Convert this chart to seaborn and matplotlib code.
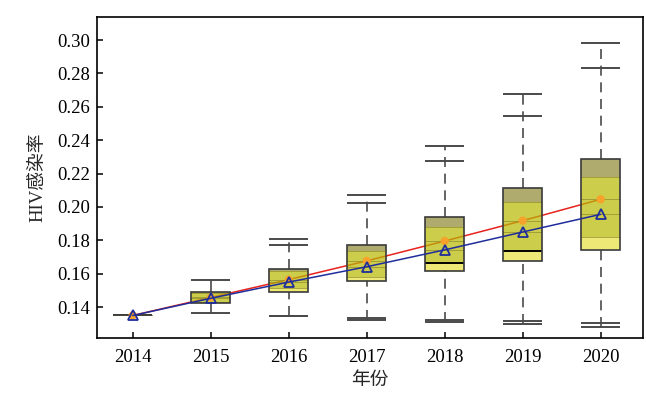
import matplotlib
matplotlib.use("Agg")
import matplotlib.pyplot as plt
import pandas as pd
import seaborn as sns

# ==============================================================================
# 1. Values
# ==============================================================================
years = [2014, 2015, 2016, 2017, 2018, 2019, 2020]
median_vals = [0.1350, 0.1458, 0.1565, 0.1677, 0.1796, 0.1918, 0.2046]
mean_vals = [0.1350, 0.1453, 0.1550, 0.1642, 0.1743, 0.1850, 0.1956]

box_top = [0.1350, 0.1491, 0.1629, 0.1772, 0.1942, 0.2112, 0.2289]
dark_band_bottom = [0.1350, 0.1486, 0.1615, 0.1737, 0.1882, 0.2028, 0.2182]
light_band_top = [0.1350, 0.1430, 0.1515, 0.1583, 0.1663, 0.1737, 0.1822]
box_bottom = [0.1350, 0.1423, 0.1489, 0.1559, 0.1619, 0.1679, 0.1743]

upper_cap_inner = [0.1350, 0.1563, 0.1772, 0.2022, 0.2277, 0.2547, 0.2830]
upper_cap_outer = [0.1350, 0.1563, 0.1807, 0.2072, 0.2365, 0.2675, 0.2984]
lower_cap_inner = [0.1350, 0.1363, 0.1347, 0.1333, 0.1323, 0.1317, 0.1307]
lower_cap_outer = [0.1350, 0.1363, 0.1345, 0.1320, 0.1311, 0.1299, 0.1283]

df = pd.DataFrame({"year": years, "median": median_vals, "mean": mean_vals})

# ==============================================================================
# 2. Styling
# ==============================================================================
sns.set_theme(style="ticks")
plt.rcParams["font.family"] = ["Liberation Serif", "Noto Sans CJK SC"]
plt.rcParams["axes.linewidth"] = 1.2

ALPHA = 0.7
DARK = (141 / 255, 136 / 255, 48 / 255)
MID = (184 / 255, 184 / 255, 0 / 255)
LIGHT = (231 / 255, 225 / 255, 62 / 255)
EDGE = "#3a3a3a"
WIDTH = 0.5
bold_split_years = {2018, 2019}
solid_whisker_years = {2015}

fig = plt.figure(figsize=(6.46, 3.96), dpi=100)
ax = fig.add_axes([0.150, 0.146, 0.845, 0.811])

# median line sits beneath the translucent boxes (turns orange inside them)
sns.lineplot(data=df, x="year", y="median", color="#e8231e", lw=1.1,
             ax=ax, zorder=1)

# ==============================================================================
# 3. Whiskers, caps and banded boxes
# ==============================================================================
for i, yr in enumerate(years):
    ls = "-" if yr in solid_whisker_years else (0, (6, 4))
    ax.vlines(yr, box_top[i], upper_cap_outer[i], colors="#4a4a4a",
              linestyles=ls, lw=1.2, zorder=2)
    ax.vlines(yr, lower_cap_outer[i], box_bottom[i], colors="#4a4a4a",
              linestyles=ls, lw=1.2, zorder=2)
    for c in {upper_cap_inner[i], upper_cap_outer[i],
              lower_cap_inner[i], lower_cap_outer[i]}:
        ax.hlines(c, yr - WIDTH / 2, yr + WIDTH / 2, colors="#4a4a4a",
                  lw=1.4, zorder=2)

ax.bar(years, [t - b for t, b in zip(box_top, dark_band_bottom)],
       bottom=dark_band_bottom, width=WIDTH, color=DARK, alpha=ALPHA,
       lw=0, zorder=3)
ax.bar(years, [t - b for t, b in zip(dark_band_bottom, light_band_top)],
       bottom=light_band_top, width=WIDTH, color=MID, alpha=ALPHA,
       lw=0, zorder=3)
ax.bar(years, [t - b for t, b in zip(light_band_top, box_bottom)],
       bottom=box_bottom, width=WIDTH, color=LIGHT, alpha=ALPHA,
       lw=0, zorder=3)

for i, yr in enumerate(years):
    x0, x1 = yr - WIDTH / 2, yr + WIDTH / 2
    ax.hlines([dark_band_bottom[i], median_vals[i], mean_vals[i]], x0, x1,
              colors="#8f8c2a", lw=0.7, alpha=0.7, zorder=4)
    if yr in bold_split_years:
        ax.hlines(light_band_top[i], x0, x1, colors="black", lw=1.4, zorder=4)
    else:
        ax.hlines(light_band_top[i], x0, x1, colors="#8f8c2a", lw=0.7,
                  alpha=0.7, zorder=4)

ax.bar(years, [t - b for t, b in zip(box_top, box_bottom)],
       bottom=box_bottom, width=WIDTH, fill=False, edgecolor=EDGE,
       lw=1.2, zorder=5)

# orange median dots over the boxes
sns.scatterplot(data=df, x="year", y="median", color="#f5a32a", s=36,
                edgecolor="none", ax=ax, zorder=6)

# mean line drawn on top with hollow triangles
sns.lineplot(data=df, x="year", y="mean", color="#1f2d9c", lw=1.1,
             marker="^", markersize=6.5, markerfacecolor="none",
             markeredgecolor="#1f2d9c", markeredgewidth=1.3, ax=ax, zorder=7)

# ==============================================================================
# 4. Axes & typography
# ==============================================================================
ax.set_xlim(2013.54, 2020.54)
ax.set_ylim(0.1214, 0.3138)
ax.set_xticks(years)
ax.set_xticklabels([str(y) for y in years])
ax.set_yticks([0.14, 0.16, 0.18, 0.20, 0.22, 0.24, 0.26, 0.28, 0.30])
ax.set_yticklabels([f"{v:.2f}" for v in ax.get_yticks()])
ax.tick_params(direction="in", length=4, width=1.1, labelsize=13.5,
               colors="black")
ax.tick_params(axis="x", pad=8)
ax.tick_params(axis="y", pad=5)
for side in ["top", "right", "left", "bottom"]:
    ax.spines[side].set_visible(True)
    ax.spines[side].set_color("black")

ax.set_xlabel("年份", fontsize=13.5, labelpad=4)
ax.set_ylabel("HIV感染率", fontsize=13.5, labelpad=8)

fig.savefig("out.png", dpi=100)
